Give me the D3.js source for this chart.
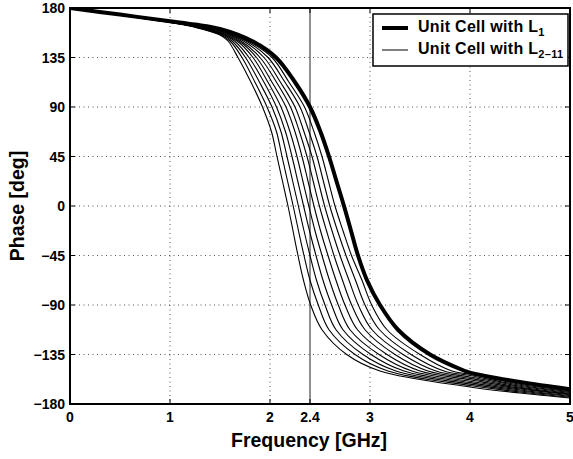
<!DOCTYPE html>
<meta charset="utf-8">
<style>
  body { margin: 0; background: #fff; }
  text { font-family: "Liberation Sans", Arial, Helvetica, sans-serif; font-weight: bold; fill: #000; }
  .tick_label { font-size: 14px; }
  .axis_title { font-size: 19.5px; }
  .legend_text { font-size: 16px; letter-spacing: 0.3px; }
</style>
<body>
<script src="https://cdn.jsdelivr.net/npm/d3@7"></script>
<script>

var width = 573
var height = 459

var phaseLevels = [150, 135, 112.5, 90, 67.5, 45, 22.5, 0, -22.5, -45, -67.5, -90, -112.5, -135, -150]
// low frequency part: phase read at fixed frequencies
var headFreqs = [0, 0.5, 1, 1.25, 1.5]
// high frequency tail: phase read at fixed frequencies
var tailFreqs = [4, 4.5, 5]

// Unit cell with L1 (thick curve)
var l1Head = [180, 174, 168, 165, 161]
var l1Levels = [1.82, 2.06, 2.25, 2.40, 2.505, 2.59, 2.665, 2.74, 2.81, 2.88, 2.97, 3.10, 3.28, 3.60, 3.95]
var l1Tail = [-151.5, -160, -166.5]

// Unit cells with L2..L11 (thin curves), leftmost first
var thinHead = [
  [180, 173.5, 166.8, 162.5, 155.5],
  [180, 173.5, 166.9, 162.7, 156.0],
  [180, 173.6, 167.0, 162.9, 156.5],
  [180, 173.6, 167.1, 163.1, 157.0],
  [180, 173.6, 167.2, 163.3, 157.5],
  [180, 173.7, 167.3, 163.5, 158.0],
  [180, 173.7, 167.4, 163.7, 158.6],
  [180, 173.7, 167.5, 163.9, 159.2],
  [180, 173.8, 167.6, 164.2, 159.8],
  [180, 173.8, 167.7, 164.5, 160.3]
]
var thinLevels = [
  [1.580, 1.680, 1.810, 1.925, 2.015, 2.07, 2.125, 2.180, 2.230, 2.280, 2.335, 2.407, 2.520, 2.767, 3.10],
  [1.600, 1.720, 1.850, 1.970, 2.065, 2.12, 2.176, 2.232, 2.285, 2.340, 2.400, 2.483, 2.590, 2.850, 3.18],
  [1.620, 1.755, 1.895, 2.020, 2.110, 2.17, 2.227, 2.284, 2.340, 2.400, 2.465, 2.550, 2.660, 2.930, 3.26],
  [1.645, 1.790, 1.940, 2.065, 2.155, 2.22, 2.278, 2.336, 2.395, 2.460, 2.530, 2.617, 2.730, 3.010, 3.34],
  [1.670, 1.830, 1.980, 2.110, 2.200, 2.27, 2.329, 2.388, 2.450, 2.520, 2.595, 2.683, 2.800, 3.090, 3.42],
  [1.690, 1.865, 2.020, 2.160, 2.250, 2.32, 2.380, 2.440, 2.505, 2.580, 2.660, 2.750, 2.875, 3.170, 3.50],
  [1.710, 1.900, 2.065, 2.205, 2.295, 2.37, 2.432, 2.494, 2.565, 2.640, 2.725, 2.817, 2.950, 3.250, 3.58],
  [1.735, 1.940, 2.105, 2.250, 2.340, 2.42, 2.483, 2.546, 2.620, 2.700, 2.790, 2.883, 3.020, 3.330, 3.66],
  [1.760, 1.980, 2.150, 2.300, 2.390, 2.47, 2.534, 2.598, 2.675, 2.760, 2.855, 2.950, 3.095, 3.410, 3.74],
  [1.780, 2.020, 2.190, 2.345, 2.440, 2.52, 2.585, 2.650, 2.730, 2.815, 2.920, 3.017, 3.170, 3.500, 3.82]
]
var thinTail = [
  [-164.5, -170.0, -174.5],
  [-163.2, -169.1, -173.8],
  [-161.9, -168.2, -173.1],
  [-160.6, -167.3, -172.3],
  [-159.3, -166.4, -171.6],
  [-158.0, -165.6, -170.9],
  [-156.7, -164.7, -170.2],
  [-155.4, -163.8, -169.4],
  [-154.1, -162.9, -168.7],
  [-153.0, -162.0, -168.0]
]

var xTicks = [0, 1, 2, 2.4, 3, 4, 5]
var xGrid = [1, 2, 3, 4]
var yTicks = [180, 135, 90, 45, 0, -45, -90, -135, -180]
var markerFreq = 2.4

function buildCurve(head, levels, tail) {
  var pts = []
  headFreqs.forEach(function (f, i) { pts.push([f, head[i]]) })
  phaseLevels.forEach(function (p, i) { pts.push([levels[i], p]) })
  tailFreqs.forEach(function (f, i) { pts.push([f, tail[i]]) })
  pts.sort(function (a, b) { return a[0] - b[0] })
  return pts
}

var plotL = 70, plotR = 570, plotT = 8, plotB = 404

var x = d3.scaleLinear().domain([0, 5]).range([plotL, plotR])
var y = d3.scaleLinear().domain([-180, 180]).range([plotB, plotT])

var svg = d3.select("body")
  .append("svg")
  .attr("width", width)
  .attr("height", height);

// grid
svg.append("g").selectAll("line")
  .data(xGrid)
  .enter().append("line")
  .attr("x1", function (d) { return x(d) }).attr("x2", function (d) { return x(d) })
  .attr("y1", plotT).attr("y2", plotB)
  .attr("stroke", "#555").attr("stroke-width", 1).attr("stroke-dasharray", "1,3.5");

svg.append("g").selectAll("line")
  .data(yTicks.slice(1, -1))
  .enter().append("line")
  .attr("x1", plotL).attr("x2", plotR)
  .attr("y1", function (d) { return y(d) }).attr("y2", function (d) { return y(d) })
  .attr("stroke", "#555").attr("stroke-width", 1).attr("stroke-dasharray", "1,3.5");

// marker at 2.4 GHz
svg.append("line")
  .attr("x1", x(markerFreq)).attr("x2", x(markerFreq))
  .attr("y1", plotT).attr("y2", plotB)
  .attr("stroke", "#222").attr("stroke-width", 1);

var line = d3.line()
  .x(function (d) { return x(d[0]) })
  .y(function (d) { return y(d[1]) })
  .curve(d3.curveCatmullRom.alpha(0.5));

svg.append("clipPath").attr("id", "plotclip")
  .append("rect").attr("x", plotL).attr("y", plotT).attr("width", plotR - plotL).attr("height", plotB - plotT);

var curves = svg.append("g").attr("clip-path", "url(#plotclip)");

thinLevels.forEach(function (lv, i) {
  curves.append("path")
    .attr("d", line(buildCurve(thinHead[i], lv, thinTail[i])))
    .attr("fill", "none").attr("stroke", "#000").attr("stroke-width", 1.1);
});

curves.append("path")
  .attr("d", line(buildCurve(l1Head, l1Levels, l1Tail)))
  .attr("fill", "none").attr("stroke", "#000").attr("stroke-width", 4);

// box
svg.append("rect")
  .attr("x", plotL).attr("y", plotT).attr("width", plotR - plotL).attr("height", plotB - plotT)
  .attr("fill", "none").attr("stroke", "#000").attr("stroke-width", 2);

// ticks (inside, on all sides)
var tl = 5
xTicks.forEach(function (d) {
  svg.append("line").attr("x1", x(d)).attr("x2", x(d)).attr("y1", plotB).attr("y2", plotB - tl).attr("stroke", "#000");
  svg.append("line").attr("x1", x(d)).attr("x2", x(d)).attr("y1", plotT).attr("y2", plotT + tl).attr("stroke", "#000");
});
yTicks.forEach(function (d) {
  svg.append("line").attr("x1", plotL).attr("x2", plotL + tl).attr("y1", y(d)).attr("y2", y(d)).attr("stroke", "#000");
  svg.append("line").attr("x1", plotR).attr("x2", plotR - tl).attr("y1", y(d)).attr("y2", y(d)).attr("stroke", "#000");
});

// tick labels
svg.selectAll(".xlab")
  .data(xTicks)
  .enter().append("text")
  .attr("class", "tick_label")
  .attr("text-anchor", "middle")
  .attr("x", function (d) { return x(d) })
  .attr("y", 422)
  .text(function (d) { return d });

svg.selectAll(".ylab")
  .data(yTicks)
  .enter().append("text")
  .attr("class", "tick_label")
  .attr("text-anchor", "end")
  .attr("x", 65)
  .attr("y", function (d) { return y(d) + 5 })
  .text(function (d) { return d < 0 ? "\u2212" + Math.abs(d) : d });

// axis titles
svg.append("text")
  .attr("class", "axis_title")
  .attr("text-anchor", "middle")
  .attr("x", 309).attr("y", 447)
  .text("Frequency [GHz]");

svg.append("text")
  .attr("class", "axis_title")
  .attr("text-anchor", "middle")
  .attr("transform", "translate(24," + y(0) + ") rotate(-90)")
  .text("Phase [deg]");

// legend
var lg = svg.append("g");
lg.append("rect")
  .attr("x", 373).attr("y", 14).attr("width", 195).attr("height", 52)
  .attr("fill", "#fff").attr("stroke", "#000").attr("stroke-width", 1.5);
lg.append("line").attr("x1", 382).attr("x2", 408).attr("y1", 28).attr("y2", 28)
  .attr("stroke", "#000").attr("stroke-width", 4);
lg.append("line").attr("x1", 382).attr("x2", 408).attr("y1", 50).attr("y2", 50)
  .attr("stroke", "#000").attr("stroke-width", 1);

var t1 = lg.append("text").attr("class", "legend_text").attr("x", 418).attr("y", 32);
t1.append("tspan").text("Unit Cell with L");
t1.append("tspan").attr("dy", 4).attr("font-size", 11).text("1");

var t2 = lg.append("text").attr("class", "legend_text").attr("x", 418).attr("y", 54);
t2.append("tspan").text("Unit Cell with L");
t2.append("tspan").attr("dy", 4).attr("font-size", 11).text("2\u201311");

</script>
</body>
